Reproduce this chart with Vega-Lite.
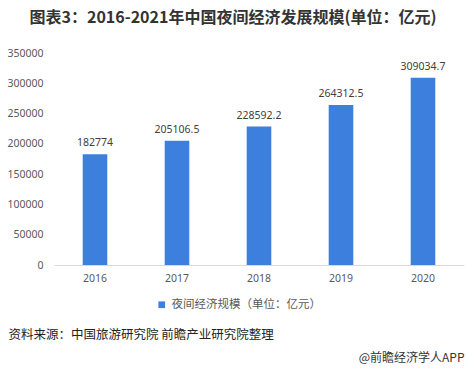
{
  "$schema": "https://vega.github.io/schema/vega-lite/v6.json",
  "width": 410,
  "height": 212,
  "autosize": "none",
  "padding": {"left": 54, "top": 53, "right": 2, "bottom": 106},
  "background": "white",
  "title": {
    "text": "图表3：2016-2021年中国夜间经济发展规模(单位：亿元)",
    "anchor": "middle",
    "dx": -26,
    "fontSize": 16,
    "fontWeight": "bold",
    "font": "Noto Sans CJK SC",
    "color": "#333333",
    "offset": 22
  },
  "config": {"view": {"stroke": null}},
  "data": {
    "values": [
      {"year": "2016", "value": 182774, "label": "182774", "series": "夜间经济规模（单位：亿元）"},
      {"year": "2017", "value": 205106.5, "label": "205106.5", "series": "夜间经济规模（单位：亿元）"},
      {"year": "2018", "value": 228592.2, "label": "228592.2", "series": "夜间经济规模（单位：亿元）"},
      {"year": "2019", "value": 264312.5, "label": "264312.5", "series": "夜间经济规模（单位：亿元）"},
      {"year": "2020", "value": 309034.7, "label": "309034.7", "series": "夜间经济规模（单位：亿元）"}
    ]
  },
  "encoding": {
    "x": {
      "field": "year",
      "type": "ordinal",
      "scale": {"paddingInner": 0.7, "paddingOuter": 0.35},
      "axis": {
        "labelAngle": 0,
        "labelFont": "Noto Sans",
        "labelFontSize": 10.5,
        "labelColor": "#595959",
        "labelPadding": 8,
        "ticks": false,
        "domainColor": "#d9d9d9",
        "title": "资料来源：中国旅游研究院 前瞻产业研究院整理",
        "titleFont": "Noto Sans CJK SC",
        "titleFontSize": 12.5,
        "titleFontWeight": "normal",
        "titleColor": "#222222",
        "titleAnchor": "start",
        "titleAlign": "left",
        "titleBaseline": "middle",
        "titleX": -46,
        "titleY": 69
      }
    },
    "y": {
      "field": "value",
      "type": "quantitative",
      "scale": {"domain": [0, 350000]},
      "axis": {
        "values": [0, 50000, 100000, 150000, 200000, 250000, 300000, 350000],
        "format": "d",
        "grid": false,
        "domain": false,
        "ticks": false,
        "labelFont": "Noto Sans",
        "labelFontSize": 10.5,
        "labelColor": "#595959",
        "labelPadding": 11,
        "title": "@前瞻经济学人APP",
        "titleFont": "Noto Sans CJK SC",
        "titleFontSize": 12,
        "titleFontWeight": "normal",
        "titleColor": "#333333",
        "titleAngle": 0,
        "titleAlign": "right",
        "titleBaseline": "middle",
        "titleX": 410,
        "titleY": 304
      }
    }
  },
  "layer": [
    {
      "mark": {"type": "bar", "color": "#3D7FDC"},
      "encoding": {
        "color": {
          "field": "series",
          "type": "nominal",
          "scale": {"range": ["#3D7FDC"]},
          "legend": {
            "title": null,
            "orient": "none",
            "legendX": 102,
            "legendY": 246,
            "direction": "horizontal",
            "symbolType": "square",
            "symbolSize": 45,
            "labelFont": "Noto Sans CJK SC",
            "labelFontSize": 11.5,
            "labelColor": "#595959"
          }
        }
      }
    },
    {
      "mark": {"type": "text", "baseline": "bottom", "dy": -6, "font": "Noto Sans", "fontSize": 10.5, "color": "#404040"},
      "encoding": {"text": {"field": "label"}}
    }
  ]
}
